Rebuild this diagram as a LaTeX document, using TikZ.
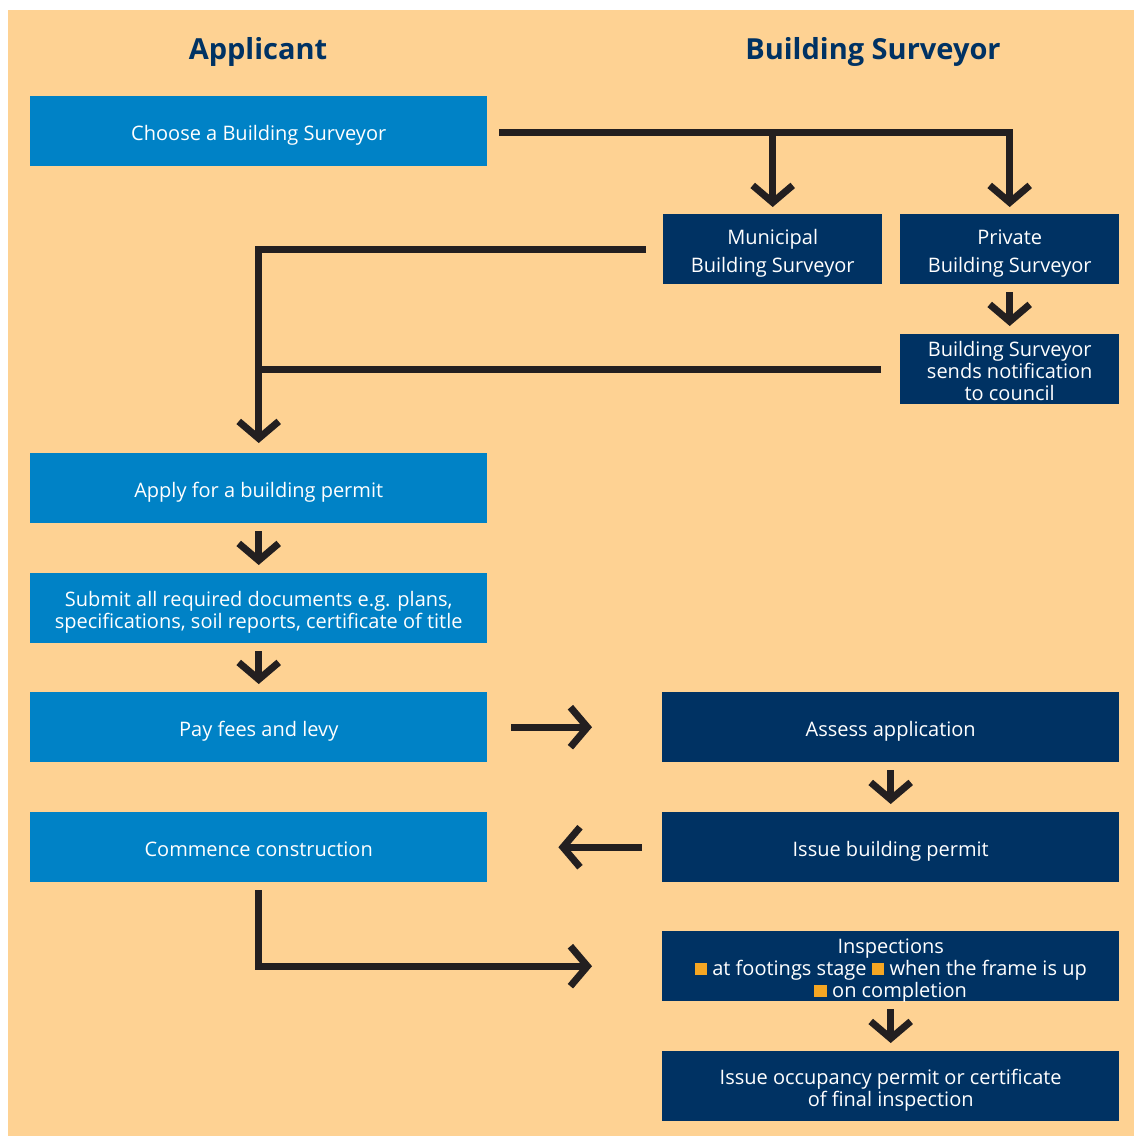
\documentclass[tikz,border=0pt]{standalone}
\usepackage{fontspec}
\setmainfont{Open Sans}
\usetikzlibrary{arrows.meta,calc}
\definecolor{peach}{HTML}{FED293}
\definecolor{lblue}{HTML}{0082C6}
\definecolor{dblue}{HTML}{003263}
\definecolor{ink}{HTML}{231F20}
\definecolor{sqc}{HTML}{F5A623}
\newcommand{\sqbullet}{\textcolor{sqc}{\rule{12.5pt}{12.5pt}}}
\newcommand{\boxtext}[1]{\raisebox{0pt}[\dimexpr\height+4.5pt\relax][\dimexpr\depth-4.5pt\relax]{\begin{tabular}{@{}c@{}}#1\end{tabular}}}
\begin{document}
\begin{tikzpicture}[x=1pt,y=-1pt,
  base/.style={text=white,inner sep=0pt,anchor=north west,
    font=\fontsize{20}{22}\selectfont},
  wide/.style={base,minimum width=457pt,minimum height=70pt},
  small/.style={base,minimum width=219pt,minimum height=70pt},
  lb/.style={fill=lblue},
  db/.style={fill=dblue},
  title/.style={text=dblue,font=\bfseries\fontsize{29}{34}\selectfont},
  link/.style={draw=ink,line width=7pt},
  conn/.style={link,-{Straight Barb[length=17pt,width=40pt]}}
]
\useasboundingbox (0,0) rectangle (1134,1136);
\fill[peach] (8,10) rectangle (1134,1136);

\node[title] (tapp) at (258,52) {Applicant};
\node[title] (tbs) at (873,52) {Building Surveyor};

\node[wide,lb] (choose) at (30,96) {\boxtext{Choose a Building Surveyor}};
\node[small,db] (muni) at (663,214) {\boxtext{Municipal\\[6pt]Building Surveyor}};
\node[small,db] (priv) at (900,214) {\boxtext{Private\\[6pt]Building Surveyor}};
\node[small,db] (notif) at (900,334) {\boxtext{Building Surveyor\\sends notification\\to council}};
\node[wide,lb] (apply) at (30,453) {\boxtext{Apply for a building permit}};
\node[wide,lb] (submit) at (30,573) {\boxtext{Submit all required documents e.g. plans,\\specifications, soil reports, certificate of title}};
\node[wide,lb] (pay) at (30,692) {\boxtext{Pay fees and levy}};
\node[wide,lb] (comm) at (30,812) {\boxtext{Commence construction}};
\node[wide,db] (assess) at (662,692) {\boxtext{Assess application}};
\node[wide,db] (issue) at (662,812) {\boxtext{Issue building permit}};
\node[wide,db] (insp) at (662,931) {\boxtext{Inspections\\\sqbullet{} at footings stage \sqbullet{} when the frame is up\\\sqbullet{} on completion}};
\node[wide,db] (occ) at (662,1051) {\boxtext{Issue occupancy permit or certificate\\of final inspection}};

\draw[conn] ($(choose.east)+(12,1.5)$) -| ($(priv.north)+(0,-7)$);
\draw[conn] ($(muni.north |- choose.east)+(0,1.5)$) -- ($(muni.north)+(0,-7)$);
\draw[conn] ($(muni.west)+(-17,0)$) -| ($(apply.north)+(0,-10)$);
\draw[link] ($(notif.west)+(-19,0)$) -- (apply.north |- notif.west);
\draw[conn] ($(priv.south)+(0,8)$) -- ($(notif.north)+(0,-8)$);
\draw[conn] ($(apply.south)+(0,8)$) -- ($(submit.north)+(0,-8)$);
\draw[conn] ($(submit.south)+(0,8)$) -- ($(pay.north)+(0,-8)$);
\draw[conn] ($(pay.east)+(24,0)$) -- ($(assess.west)+(-70,0)$);
\draw[conn] ($(issue.west)+(-20,0)$) -- ($(comm.east)+(71,0)$);
\draw[conn] ($(assess.south)+(0,8)$) -- ($(issue.north)+(0,-8)$);
\draw[conn] ($(comm.south)+(0,8)$) |- ($(insp.west)+(-70,0)$);
\draw[conn] ($(insp.south)+(0,8)$) -- ($(occ.north)+(0,-8)$);
\end{tikzpicture}
\end{document}
